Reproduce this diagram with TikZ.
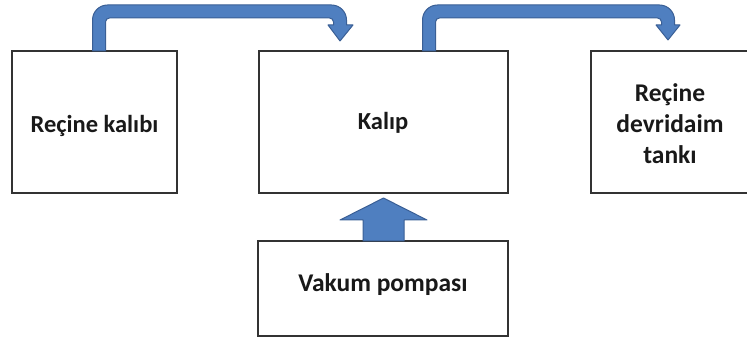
\documentclass[tikz,border=0pt]{standalone}
\usepackage{fontspec}
\setmainfont{Carlito}
\begin{document}
\begin{tikzpicture}[x=1pt,y=-1pt,
  boxst/.style={draw=black!80,line width=1.3pt,fill=white},
  lbl/.style={font=\bfseries\fontsize{25.5}{31}\selectfont,align=center,text=black!90},
  arrowst/.style={fill=arrowblue,draw=arrowedge,line width=1pt,line join=round}]
\definecolor{arrowblue}{HTML}{4F7FC0}
\definecolor{arrowedge}{HTML}{3A5F95}
\useasboundingbox (0,0) rectangle (747,339);
\clip (0,0) rectangle (747,339);
% boxes
\draw[boxst] (12,51) rectangle (177,193);
\draw[boxst] (259,51) rectangle (508,193);
\draw[boxst] (591,51) rectangle (760,193);
\draw[boxst] (258,241) rectangle (508,336);
\node[lbl,font=\bfseries\fontsize{24.5}{31}\selectfont] (b1) at (94.5,126) {Reçine kalıbı};
\node[lbl,font=\bfseries\fontsize{24.5}{31}\selectfont] (b2) at (383,123) {Kalıp};
\node[lbl] (b3) at (670,124) {Reçine\\devridaim\\tankı};
\node[lbl] (b4) at (383,285) {Vakum pompası};
% arrow 1
\draw[arrowst] (92.5,51) [rounded corners=15pt] -- (92.5,5) -- (346.5,5) [sharp corners] -- (346.5,25) -- (353,25) -- (340,41) -- (328,25) -- (333.5,25) [rounded corners=4pt] -- (333.5,18) -- (105.5,18) [sharp corners] -- (105.5,51) -- cycle;
% arrow 2
\draw[arrowst] (422.5,51) [rounded corners=15pt] -- (422.5,5) -- (674.5,5) [sharp corners] -- (674.5,25) -- (680,25) -- (668,40) -- (656,25) -- (661.5,25) [rounded corners=4pt] -- (661.5,18) -- (435.5,18) [sharp corners] -- (435.5,51) -- cycle;
% up arrow
\draw[arrowst] (363,241) -- (363,220) -- (340,220) -- (383.5,198) -- (427,220) -- (404,220) -- (404,241) -- cycle;
\end{tikzpicture}
\end{document}
